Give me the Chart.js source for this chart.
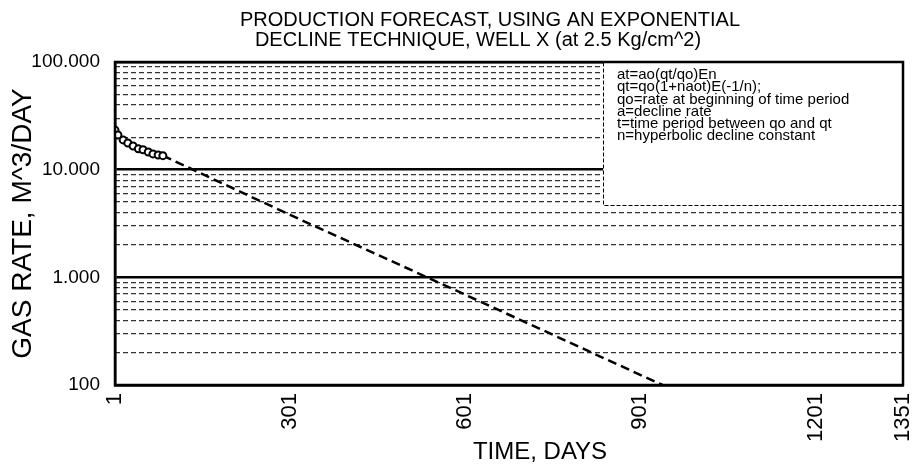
<!DOCTYPE html>
<html>
<head>
<meta charset="utf-8">
<title>Production forecast - well X</title>
<script src="https://cdn.jsdelivr.net/npm/chart.js@4.4.1/dist/chart.umd.min.js"></script>
<style>
  html, body { margin: 0; padding: 0; background: #fff; }
  canvas { display: block; }
</style>
</head>
<body>
<canvas id="forecastChart" width="915" height="466"></canvas>
<script>
// measured gas rate, days / m3 per day
const actualDays = [1, 6, 15, 23, 32, 41, 49, 58, 66, 75, 83];
const actualRate = [23300, 21000, 18900, 17700, 16600, 15600, 15300, 14600, 14000, 13700, 13500];

// exponential decline forecast
const forecastDays = [83, 301, 601, 939];
const forecastRate = [13500, 3800, 690, 100];

// axis ticks
const xTicks = [1, 301, 601, 901, 1201, 1351];
const yMajor = [100, 1000, 10000, 100000];
const yTickLabels = ['100', '1.000', '10.000', '100.000'];
const yMinor = [200, 300, 400, 500, 600, 700, 800, 900,
  2000, 3000, 4000, 5000, 6000, 7000, 8000, 9000,
  20000, 30000, 40000, 50000, 60000, 70000, 80000, 90000];

const titleLines = ['PRODUCTION FORECAST, USING AN EXPONENTIAL', 'DECLINE TECHNIQUE, WELL X (at 2.5 Kg/cm^2)'];
const yTitle = 'GAS RATE, M^3/DAY';
const xTitle = 'TIME, DAYS';
const formulaLines = [
  'at=ao(qt/qo)En',
  'qt=qo(1+naot)E(-1/n);',
  'qo=rate at beginning of time period',
  'a=decline rate',
  't=time period between qo and qt',
  'n=hyperbolic decline constant'
];

const FONT = "'Liberation Sans', Arial, sans-serif";
Chart.defaults.font.family = FONT;
Chart.defaults.color = '#000';

// titles, formula box and frame are drawn straight on the canvas
const paperPlugin = {
  id: 'paper',
  beforeDraw(chart) {
    const ctx = chart.ctx;
    ctx.save();
    ctx.fillStyle = '#fff';
    ctx.fillRect(0, 0, chart.width, chart.height);
    ctx.restore();
  },
  afterDatasetsDraw(chart) {
    const ctx = chart.ctx;
    const area = chart.chartArea;
    ctx.save();
    // formula box
    const bx = 603, by = area.top, bw = area.right - 603, bh = 205 - area.top;
    ctx.fillStyle = '#fff';
    ctx.fillRect(bx, by, bw, bh);
    ctx.strokeStyle = '#000';
    ctx.lineWidth = 1;
    ctx.setLineDash([4, 2]);
    ctx.strokeRect(bx + 0.5, by + 0.5, bw, bh);
    ctx.setLineDash([]);
    ctx.fillStyle = '#000';
    ctx.font = '15px ' + FONT;
    ctx.textAlign = 'left';
    ctx.textBaseline = 'middle';
    formulaLines.forEach((line, i) => ctx.fillText(line, 617, 75 + i * 12.2));
    ctx.restore();
  },
  afterDraw(chart) {
    const ctx = chart.ctx;
    const area = chart.chartArea;
    ctx.save();
    // plot frame
    ctx.strokeStyle = '#000';
    ctx.lineWidth = 2.5;
    ctx.strokeRect(area.left, area.top, area.right - area.left, area.bottom - area.top);
    // titles
    ctx.fillStyle = '#000';
    ctx.textAlign = 'center';
    ctx.textBaseline = 'middle';
    ctx.font = '20px ' + FONT;
    ctx.fillText(titleLines[0], 490, 20);
    ctx.fillText(titleLines[1], 478, 40);
    ctx.font = '24px ' + FONT;
    ctx.fillText(xTitle, 540, 452);
    ctx.translate(23, (area.top + area.bottom) / 2);
    ctx.rotate(-Math.PI / 2);
    ctx.font = '28px ' + FONT;
    ctx.fillText(yTitle, 0, 0);
    ctx.restore();
  }
};

const ctx = document.getElementById('forecastChart');
new Chart(ctx, {
  type: 'scatter',
  data: {
    datasets: [
      {
        label: 'Forecast',
        data: forecastDays.map((d, i) => ({ x: d, y: forecastRate[i] })),
        showLine: true,
        borderColor: '#000',
        borderWidth: 2.5,
        borderDash: [9, 5],
        pointRadius: 0,
        order: 2
      },
      {
        label: 'Measured',
        data: actualDays.map((d, i) => ({ x: d, y: actualRate[i] })),
        showLine: true,
        borderColor: '#000',
        borderWidth: 2.5,
        pointRadius: 3.5,
        pointBackgroundColor: '#fff',
        pointBorderColor: '#000',
        pointBorderWidth: 2,
        order: 1
      }
    ]
  },
  options: {
    responsive: false,
    animation: false,
    layout: { padding: { top: 62, right: 12, bottom: 0, left: 0 } },
    plugins: {
      legend: { display: false },
      tooltip: { enabled: false }
    },
    scales: {
      x: {
        type: 'linear',
        min: 1,
        max: 1351,
        afterBuildTicks: (scale) => { scale.ticks = xTicks.map(v => ({ value: v })); },
        afterFit: (scale) => {
          scale.height = 81;
          scale.paddingLeft = 0;
          scale.paddingRight = 0;
        },
        grid: { display: false, drawTicks: false },
        border: { display: true, color: '#000', width: 2.5 },
        ticks: {
          autoSkip: false,
          minRotation: 90,
          maxRotation: 90,
          padding: 8,
          font: { size: 22 },
          callback: (v) => String(v)
        }
      },
      y: {
        type: 'logarithmic',
        position: 'left',
        min: 100,
        max: 100000,
        afterBuildTicks: (scale) => { scale.ticks = yMajor.map(v => ({ value: v, major: true })); },
        afterFit: (scale) => {
          scale.width = 115;
          scale.paddingTop = 0;
          scale.paddingBottom = 0;
        },
        grid: { color: '#000', lineWidth: 2.5, drawTicks: false },
        border: { display: true, color: '#000', width: 2.5 },
        ticks: {
          autoSkip: false,
          padding: 15,
          font: { size: 19 },
          callback: (v) => yTickLabels[yMajor.indexOf(v)] ?? ''
        }
      },
      yMinor: {
        type: 'logarithmic',
        position: 'left',
        min: 100,
        max: 100000,
        afterBuildTicks: (scale) => { scale.ticks = yMinor.map(v => ({ value: v })); },
        afterFit: (scale) => { scale.width = 0; },
        grid: { color: '#333', lineWidth: 1.2, drawTicks: false },
        border: { display: false, dash: [5, 3] },
        ticks: { display: false }
      }
    }
  },
  plugins: [paperPlugin]
});
</script>
</body>
</html>
